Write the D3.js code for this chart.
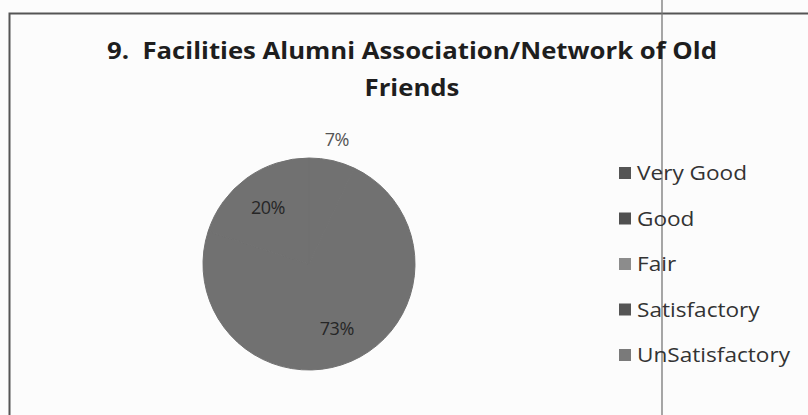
<!DOCTYPE html>
<html>
<head>
<meta charset="utf-8">
<script src="https://cdn.jsdelivr.net/npm/d3@7"></script>
<style>
  body { margin: 0; background: #fcfcfc; }
  svg { display: block; }
</style>
</head>
<body>
<div id="chart"></div>
<script>
// values, slices go clockwise from 12 o'clock
var categories = ["Very Good", "Good", "Fair", "Satisfactory", "UnSatisfactory"];
var percents = [7, 73, 20, 0, 0];
// the scan washed every slice to the same grey
var sliceColors = ["#717171", "#717171", "#717171", "#717171", "#717171"];
var swatchColors = ["#555555", "#505050", "#8c8c8c", "#555555", "#7a7a7a"];
var titleLines = ["9.  Facilities Alumni Association/Network of Old", "Friends"];

var width = 808, height = 415;
var cx = 309, cy = 264, radius = 106;
var font = "'Open Sans', Lato, sans-serif";

var svg = d3.select("#chart")
    .append("svg")
        .attr("width", width)
        .attr("height", height);

// the scanned lettering is wider than any installed font,
// so stretch each group of texts so its widest line hits the measured width
function stretch(sel, widest) {
    var lens = sel.nodes().map(function (n) { return n.getComputedTextLength(); });
    var k = widest / d3.max(lens);
    sel.attr("textLength", function (d, i) { return lens[i] * k; })
       .attr("lengthAdjust", "spacingAndGlyphs");
}

// frame of the chart box (only top and left survive the scan)
svg.append("path")
    .attr("d", "M9.5," + height + "V13.5H" + width)
    .attr("fill", "none")
    .attr("stroke", "#555")
    .attr("stroke-width", 2);

// page fold line running through the legend
svg.append("line")
    .attr("x1", 662).attr("x2", 662)
    .attr("y1", 0).attr("y2", height)
    .attr("stroke", "#777")
    .attr("stroke-width", 1.3);

// title, two centred lines
var title = svg.append("g")
    .selectAll("text")
    .data(titleLines)
    .enter()
    .append("text")
        .attr("x", 412)
        .attr("y", function (d, i) { return 59 + i * 37; })
        .attr("text-anchor", "middle")
        .style("white-space", "pre")
        .style("font-family", font)
        .style("font-weight", "bold")
        .style("font-size", "23px")
        .style("fill", "#1e1e1e")
        .text(function (d) { return d; });
stretch(title, 610);

var pie = d3.pie().sort(null).value(function (d) { return d; });
var arcs = pie(percents);
var arc = d3.arc().innerRadius(0).outerRadius(radius);
var inner = d3.arc().innerRadius(radius * 0.66).outerRadius(radius * 0.66);
var outer = d3.arc().innerRadius(radius * 1.2).outerRadius(radius * 1.2);

var pieGroup = svg.append("g")
    .attr("transform", "translate(" + cx + "," + cy + ")");

pieGroup.selectAll("path")
    .data(arcs)
    .enter()
    .append("path")
        .attr("d", arc)
        .style("fill", function (d, i) { return sliceColors[i]; })
        .style("stroke", function (d, i) { return sliceColors[i]; })
        .style("stroke-width", 1);

// small slices get their label outside, the rest inside
pieGroup.selectAll("text")
    .data(arcs.filter(function (d) { return d.value > 0; }))
    .enter()
    .append("text")
        .attr("transform", function (d) {
            var p = d.value < 10 ? outer.centroid(d) : inner.centroid(d);
            return "translate(" + p + ")";
        })
        .attr("text-anchor", "middle")
        .attr("dy", "0.35em")
        .style("font-family", font)
        .style("font-size", "18px")
        .style("letter-spacing", "-0.5px")
        .style("fill", function (d) { return d.value < 10 ? "#555" : "#262626"; })
        .text(function (d) { return d.value + "%"; });

// legend
var legend = svg.append("g")
    .selectAll("g")
    .data(categories)
    .enter()
    .append("g")
        .attr("transform", function (d, i) { return "translate(619," + (173 + i * 45.5) + ")"; });

legend.append("rect")
    .attr("x", 0).attr("y", -6)
    .attr("width", 12).attr("height", 12)
    .style("fill", function (d, i) { return swatchColors[i]; });

var legendText = legend.append("text")
    .attr("x", 18)
    .attr("dy", "0.35em")
    .style("font-family", font)
    .style("font-size", "20px")
    .style("fill", "#333")
    .text(function (d) { return d; });
stretch(legendText, 153);
</script>
</body>
</html>
